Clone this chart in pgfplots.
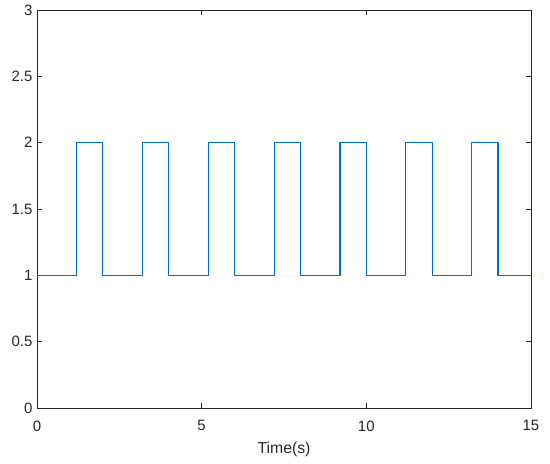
\documentclass[border=0pt]{standalone}
\usepackage{fontspec}
\setmainfont{Liberation Sans}
\usepackage{pgfplots}
\pgfplotsset{compat=1.18}
\definecolor{mblue}{rgb}{0,0.447,0.741}
\definecolor{axgray}{rgb}{0.15,0.15,0.15}
\begin{document}
\begin{tikzpicture}
\useasboundingbox (-37pt,-56pt) rectangle (513pt,408pt);
\begin{axis}[
  at={(0,0)}, anchor=south west,
  scale only axis, width=494pt, height=398pt,
  xmin=0, xmax=15, ymin=0, ymax=3,
  xtick={0,5,10,15},
  ytick={0,0.5,1,1.5,2,2.5,3},
  yticklabels={0,0.5,1,1.5,2,2.5,3},
  /pgf/number format/assume math mode=true,
  tick label style={font=\fontsize{15}{17}\selectfont, text=axgray},
  xlabel={Time(s)},
  xlabel style={font=\fontsize{15.8}{18}\selectfont, text=axgray, yshift=-4pt},
  axis line style={axgray, line width=0.6pt},
  major tick style={axgray, line width=0.6pt},
  major tick length=5pt,
  tick align=inside,
  xticklabel style={yshift=-9pt},
  yticklabel style={xshift=-1pt},
]
\addplot[const plot, mblue, line width=1.2pt] coordinates {
(0,1) (1.2,2) (2,1) (3.2,2) (4,1) (5.2,2) (6,1) (7.2,2) (8,1) (9.2,2) (10,1) (11.2,2) (12,1) (13.2,2) (14,1) (15,1)
};
\end{axis}
\end{tikzpicture}
\end{document}
